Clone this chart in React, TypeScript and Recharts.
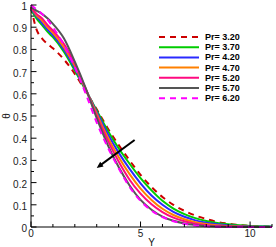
import React from 'react';
import { LineChart, Line, XAxis, YAxis, Legend, ReferenceLine } from 'recharts';

const Y_VALUES = [0, 0.25, 0.5, 0.75, 1, 1.5, 2, 2.5, 3, 3.5, 4, 4.5, 5, 5.5, 6, 6.5, 7, 7.5, 8, 8.5, 9, 9.5, 10, 10.5, 11];

const PR_320 = [0.99, 0.89, 0.85, 0.825, 0.805, 0.755, 0.69, 0.61, 0.53, 0.445, 0.37, 0.3, 0.235, 0.18, 0.135, 0.1, 0.073, 0.052, 0.036, 0.023, 0.015, 0.009, 0.005, 0.003, 0.002];
const PR_370 = [0.98, 0.94, 0.91, 0.88, 0.855, 0.79, 0.705, 0.615, 0.525, 0.435, 0.355, 0.285, 0.22, 0.165, 0.118, 0.083, 0.058, 0.04, 0.027, 0.018, 0.012, 0.008, 0.005, 0.003, 0.002];
const PR_420 = [0.985, 0.95, 0.92, 0.89, 0.865, 0.8, 0.715, 0.618, 0.518, 0.42, 0.335, 0.262, 0.197, 0.142, 0.1, 0.068, 0.046, 0.03, 0.019, 0.012, 0.007, 0.004, 0.002, 0.001, 0.001];
const PR_470 = [0.99, 0.955, 0.93, 0.9, 0.875, 0.81, 0.725, 0.62, 0.51, 0.405, 0.315, 0.238, 0.173, 0.122, 0.082, 0.054, 0.035, 0.022, 0.013, 0.008, 0.004, 0.002, 0.001, 0, 0];
const PR_520 = [0.99, 0.96, 0.94, 0.91, 0.885, 0.825, 0.735, 0.622, 0.5, 0.39, 0.295, 0.213, 0.15, 0.102, 0.067, 0.042, 0.026, 0.015, 0.008, 0.004, 0.002, 0.001, 0, 0, 0];
const PR_570 = [0.99, 0.975, 0.96, 0.94, 0.915, 0.85, 0.745, 0.625, 0.49, 0.37, 0.27, 0.187, 0.122, 0.078, 0.047, 0.028, 0.016, 0.009, 0.004, 0.002, 0.001, 0, 0, 0, 0];
const PR_620 = [1.0, 0.98, 0.96, 0.935, 0.9, 0.82, 0.72, 0.6, 0.47, 0.36, 0.265, 0.18, 0.118, 0.074, 0.045, 0.026, 0.014, 0.007, 0.003, 0.001, 0, 0, 0, 0, 0];

const SERIES = [
  { key: 'p320', name: 'Pr= 3.20', values: PR_320, color: '#cc0000', dash: '6 5' },
  { key: 'p370', name: 'Pr= 3.70', values: PR_370, color: '#00cc00', dash: undefined },
  { key: 'p420', name: 'Pr= 4.20', values: PR_420, color: '#2a2aff', dash: undefined },
  { key: 'p470', name: 'Pr= 4.70', values: PR_470, color: '#ff8000', dash: undefined },
  { key: 'p520', name: 'Pr= 5.20', values: PR_520, color: '#ff0a80', dash: undefined },
  { key: 'p570', name: 'Pr= 5.70', values: PR_570, color: '#555555', dash: undefined },
  { key: 'p620', name: 'Pr= 6.20', values: PR_620, color: '#ff00ff', dash: '6 5' },
];

const X_TICKS = [0, 1, 2, 3, 4, 5, 6, 7, 8, 9, 10, 11];
const X_LABELS = [0, 5, 10];
const Y_TICKS = [0, 0.05, 0.1, 0.15, 0.2, 0.25, 0.3, 0.35, 0.4, 0.45, 0.5, 0.55, 0.6, 0.65, 0.7, 0.75, 0.8, 0.85, 0.9, 0.95, 1];
const Y_LABELS = ['0', '0.1', '0.2', '0.3', '0.4', '0.5', '0.6', '0.7', '0.8', '0.9', '1'];

const ARROW_FROM = { x: 4.73, y: 0.392 };
const ARROW_TO = { x: 3.0, y: 0.266 };

const data = Y_VALUES.map((y, i) => {
  const row: any = { y };
  SERIES.forEach((s) => { row[s.key] = s.values[i]; });
  return row;
});

const XM = 3;
const YM = 4;
const MAJOR = 5.5;
const MINOR = 3;
const TEXT = '#222';

const isYLabel = (v: number) => Y_LABELS.includes(String(Math.round(v * 100) / 100));

const BottomTick = (p: any) => {
  const { x, y, payload } = p;
  const major = X_LABELS.includes(payload.value);
  const ay = y - XM;
  return (
    <g>
      <line x1={x} x2={x} y1={ay} y2={ay - (major ? MAJOR : MINOR)} stroke="#000" />
      {major && (
        <text x={x} y={y} dy="0.71em" textAnchor="middle" fontSize={10} fill={TEXT}>{payload.value}</text>
      )}
    </g>
  );
};

const TopTick = (p: any) => {
  const { x, y, payload } = p;
  const major = X_LABELS.includes(payload.value);
  const ay = y + XM;
  return <line x1={x} x2={x} y1={ay} y2={ay + (major ? MAJOR : MINOR)} stroke="#000" />;
};

const LeftTick = (p: any) => {
  const { x, y, payload } = p;
  const major = isYLabel(payload.value);
  const ax = x + YM;
  return (
    <g>
      <line x1={ax} x2={ax + (major ? MAJOR : MINOR)} y1={y} y2={y} stroke="#000" />
      {major && (
        <text x={x} y={y} dy="0.5em" textAnchor="end" fontSize={10} fill={TEXT}>{String(Math.round(payload.value * 100) / 100)}</text>
      )}
    </g>
  );
};

const RightTick = (p: any) => {
  const { x, y, payload } = p;
  const major = isYLabel(payload.value);
  const ax = x - YM;
  return <line x1={ax} x2={ax - (major ? MAJOR : MINOR)} y1={y} y2={y} stroke="#000" />;
};

const ArrowShape = (p: any) => {
  const { x1, y1, x2, y2 } = p;
  if ([x1, y1, x2, y2].some((v) => typeof v !== 'number')) return null;
  const ang = Math.atan2(y2 - y1, x2 - x1);
  const L = 7;
  const a = 0.42;
  const hx1 = x2 - L * Math.cos(ang - a);
  const hy1 = y2 - L * Math.sin(ang - a);
  const hx2 = x2 - L * Math.cos(ang + a);
  const hy2 = y2 - L * Math.sin(ang + a);
  return (
    <g>
      <line x1={x1} y1={y1} x2={x2 - 3 * Math.cos(ang)} y2={y2 - 3 * Math.sin(ang)} stroke="#000" strokeWidth={2} />
      <polygon points={`${x2},${y2} ${hx1},${hy1} ${hx2},${hy2}`} fill="#000" />
    </g>
  );
};

const ThetaLabel = (p: any) => {
  const vb = p.viewBox || { x: 0, y: 0, width: 0, height: 0 };
  const cx = vb.x + 6;
  const cy = vb.y + vb.height / 2;
  return (
    <text x={cx} y={cy} transform={`rotate(-90, ${cx}, ${cy})`} textAnchor="middle" dominantBaseline="central" fontSize={10} fill={TEXT}>θ</text>
  );
};

const LegendContent = () => (
  <svg width={100} height={75} style={{ display: 'block' }}>
    {SERIES.map((s, i) => {
      const cy = 6 + i * 10.2;
      return (
        <g key={s.key}>
          <line x1={2} x2={42} y1={cy} y2={cy} stroke={s.color} strokeWidth={2} strokeDasharray={s.dash} />
          <text x={48} y={cy} dominantBaseline="central" fontSize={9} fontWeight="bold" fill="#000">{s.name}</text>
        </g>
      );
    })}
  </svg>
);

export default function App() {
  return (
    <div style={{ position: 'absolute', left: 0, top: 0, width: 276, height: 247, background: '#fff', fontFamily: 'Arial, "Liberation Sans", sans-serif' }}>
      <LineChart width={276} height={247} data={data} margin={{ top: 5, right: 4, bottom: 0, left: 0 }} style={{ fontFamily: 'Arial, "Liberation Sans", sans-serif' }}>
        <XAxis dataKey="y" type="number" domain={[0, 11]} ticks={X_TICKS} interval={0} height={20} tickSize={0} tickMargin={XM} tickLine={false} axisLine={{ stroke: '#000' }} tick={<BottomTick />}
          label={{ value: 'Y', position: 'insideBottom', offset: 1, fontSize: 10, fill: '#111' }} />
        <XAxis xAxisId="top" orientation="top" dataKey="y" type="number" domain={[0, 11]} ticks={X_TICKS} interval={0} height={0} tickSize={0} tickMargin={XM} tickLine={false} axisLine={{ stroke: '#000' }} tick={<TopTick />} />
        <YAxis type="number" domain={[0, 1]} ticks={Y_TICKS} interval={0} width={31} tickSize={0} tickMargin={YM} tickLine={false} axisLine={{ stroke: '#000' }} tick={<LeftTick />}
          label={<ThetaLabel />} />
        <YAxis yAxisId="right" orientation="right" type="number" domain={[0, 1]} ticks={Y_TICKS} interval={0} width={0} tickSize={0} tickMargin={YM} tickLine={false} axisLine={{ stroke: '#000' }} tick={<RightTick />} />
        {SERIES.map((s) => (
          <Line key={s.key} type="monotone" dataKey={s.key} name={s.name} stroke={s.color} strokeWidth={2} strokeDasharray={s.dash} dot={false} isAnimationActive={false} />
        ))}
        <ReferenceLine segment={[ARROW_FROM, ARROW_TO]} ifOverflow="visible" shape={<ArrowShape />} />
        <Legend layout="horizontal" verticalAlign="middle" align="center" content={<LegendContent />}
          wrapperStyle={{ position: 'absolute', left: 157, top: 31, width: 100, height: 75 }} />
      </LineChart>
    </div>
  );
}
